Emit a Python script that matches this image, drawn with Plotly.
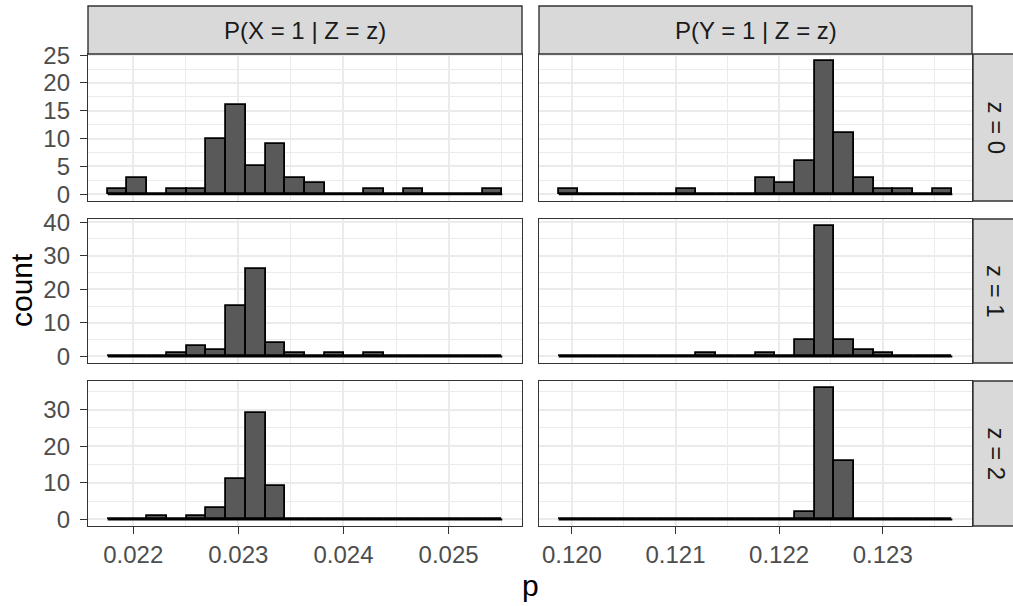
import numpy as np
import plotly.graph_objects as go

# ---- data ----
col_labels = ["P(X = 1 | Z = z)", "P(Y = 1 | Z = z)"]
row_labels = ["z = 0", "z = 1", "z = 2"]

# bin ranges (20 bins per column)
x_bin_lo = [0.021757, 0.119872]
x_bin_hi = [0.025511, 0.123672]
n_bins = 20

counts_x_z0 = [1, 3, 0, 1, 1, 10, 16, 5, 9, 3, 2, 0, 0, 1, 0, 1, 0, 0, 0, 1]
counts_x_z1 = [0, 0, 0, 1, 3, 2, 15, 26, 4, 1, 0, 1, 0, 1, 0, 0, 0, 0, 0, 0]
counts_x_z2 = [0, 0, 1, 0, 1, 3, 11, 29, 9, 0, 0, 0, 0, 0, 0, 0, 0, 0, 0, 0]
counts_y_z0 = [1, 0, 0, 0, 0, 0, 1, 0, 0, 0, 3, 2, 6, 24, 11, 3, 1, 1, 0, 1]
counts_y_z1 = [0, 0, 0, 0, 0, 0, 0, 1, 0, 0, 1, 0, 5, 39, 5, 2, 1, 0, 0, 0]
counts_y_z2 = [0, 0, 0, 0, 0, 0, 0, 0, 0, 0, 0, 0, 2, 36, 16, 0, 0, 0, 0, 0]

counts = [[counts_x_z0, counts_y_z0],
          [counts_x_z1, counts_y_z1],
          [counts_x_z2, counts_y_z2]]

x_ticks = [[0.022, 0.023, 0.024, 0.025], [0.120, 0.121, 0.122, 0.123]]
y_dticks = [5, 10, 10]

# ---- layout geometry (pixels) ----
W, H = 1013, 606
col_px = [(88, 522), (539, 972)]
row_px = [(54, 201), (219, 363), (381, 526)]
strip_top_px = (6, 54)
strip_right_px = (973, 1021)

def px(x):
    return x / W

def py(y):
    return 1 - y / H

FONT = "Liberation Sans, Arial, sans-serif"
GRID = "#EBEBEB"
BORDER = "#333333"
TICK_SIZE = 24
TITLE_SIZE = 30

fig = go.Figure()
layout = dict()
shapes = []
annotations = []

for r in range(3):
    cmax = max(max(counts[r][0]), max(counts[r][1]))
    yr = [-0.05 * cmax, cmax * 1.05]
    for c in range(2):
        k = r * 2 + c + 1
        xa = "x" if k == 1 else f"x{k}"
        ya = "y" if k == 1 else f"y{k}"
        edges = np.linspace(x_bin_lo[c], x_bin_hi[c], n_bins + 1)
        centers = (edges[:-1] + edges[1:]) / 2
        width = edges[1] - edges[0]
        # baseline for empty bins
        fig.add_trace(go.Scatter(
            x=[edges[0], edges[-1]], y=[0, 0], mode="lines",
            line=dict(color="black", width=2), xaxis=xa, yaxis=ya,
            showlegend=False, hoverinfo="skip"))
        fig.add_trace(go.Bar(
            x=centers, y=counts[r][c], width=width,
            marker=dict(color="#595959", line=dict(color="black", width=1.8)),
            xaxis=xa, yaxis=ya, showlegend=False))
        span = x_bin_hi[c] - x_bin_lo[c]
        xr = [x_bin_lo[c] - 0.05 * span, x_bin_hi[c] + 0.05 * span]
        bottom = (r == 2)
        left = (c == 0)
        layout["xaxis" if k == 1 else f"xaxis{k}"] = dict(
            domain=[px(col_px[c][0]), px(col_px[c][1])],
            anchor=ya, range=xr,
            tickmode="linear", tick0=x_ticks[c][0], dtick=0.001,
            tickformat=".3f",
            showticklabels=bottom,
            ticks="outside" if bottom else "", ticklen=7, tickwidth=1.4,
            tickcolor=BORDER,
            tickfont=dict(family=FONT, size=TICK_SIZE, color="#4D4D4D"),
            ticklabelstandoff=0,
            showgrid=True, gridcolor=GRID, gridwidth=1.5,
            minor=dict(showgrid=True, gridcolor=GRID, gridwidth=0.8,
                       dtick=0.0005, tick0=x_ticks[c][0] - 0.0005),
            showline=True, mirror=True, linecolor=BORDER, linewidth=1.4,
            zeroline=False, automargin=False, fixedrange=True)
        layout["yaxis" if k == 1 else f"yaxis{k}"] = dict(
            domain=[py(row_px[r][1]), py(row_px[r][0])],
            anchor=xa, range=yr,
            tickmode="linear", tick0=0, dtick=y_dticks[r],
            showticklabels=left,
            ticks="outside" if left else "", ticklen=7, tickwidth=1.4,
            tickcolor=BORDER,
            tickfont=dict(family=FONT, size=TICK_SIZE, color="#4D4D4D"),
            ticklabelstandoff=5,
            showgrid=True, gridcolor=GRID, gridwidth=1.5,
            minor=dict(showgrid=True, gridcolor=GRID, gridwidth=0.8,
                       dtick=y_dticks[r] / 2, tick0=y_dticks[r] / 2),
            showline=True, mirror=True, linecolor=BORDER, linewidth=1.4,
            zeroline=False, automargin=False, fixedrange=True)

# top strips
for c in range(2):
    shapes.append(dict(type="rect", xref="paper", yref="paper",
                       x0=px(col_px[c][0]), x1=px(col_px[c][1]),
                       y0=py(strip_top_px[1]), y1=py(strip_top_px[0]),
                       fillcolor="#D9D9D9", line=dict(color=BORDER, width=1.4),
                       layer="above"))
    annotations.append(dict(text=col_labels[c], xref="paper", yref="paper",
                            x=px((col_px[c][0] + col_px[c][1]) / 2),
                            y=py((strip_top_px[0] + strip_top_px[1]) / 2),
                            showarrow=False, xanchor="center", yanchor="middle",
                            font=dict(family=FONT, size=TICK_SIZE, color="#1A1A1A")))
# right strips
for r in range(3):
    shapes.append(dict(type="rect", xref="paper", yref="paper",
                       x0=px(strip_right_px[0]), x1=px(strip_right_px[1]),
                       y0=py(row_px[r][1]), y1=py(row_px[r][0]),
                       fillcolor="#D9D9D9", line=dict(color=BORDER, width=1.4),
                       layer="above"))
    annotations.append(dict(text=row_labels[r], xref="paper", yref="paper",
                            x=px(996), y=py((row_px[r][0] + row_px[r][1]) / 2),
                            showarrow=False, textangle=90,
                            xanchor="center", yanchor="middle",
                            font=dict(family=FONT, size=TICK_SIZE, color="#1A1A1A")))

# axis titles
annotations.append(dict(text="count", xref="paper", yref="paper",
                        x=px(21), y=py(290), showarrow=False, textangle=-90,
                        xanchor="center", yanchor="middle",
                        font=dict(family=FONT, size=TITLE_SIZE, color="black")))
annotations.append(dict(text="p", xref="paper", yref="paper",
                        x=px(530), y=py(585), showarrow=False,
                        xanchor="center", yanchor="middle",
                        font=dict(family=FONT, size=TITLE_SIZE, color="black")))

fig.update_layout(
    width=W, height=H,
    margin=dict(l=0, r=0, t=0, b=0),
    paper_bgcolor="white", plot_bgcolor="white",
    barmode="overlay", bargap=0,
    shapes=shapes, annotations=annotations,
    showlegend=False,
    **layout)

fig.write_html("out.html",
               config={"displayModeBar": False},
               post_script="document.body.style.margin='0';"
                           "document.documentElement.style.margin='0';")
